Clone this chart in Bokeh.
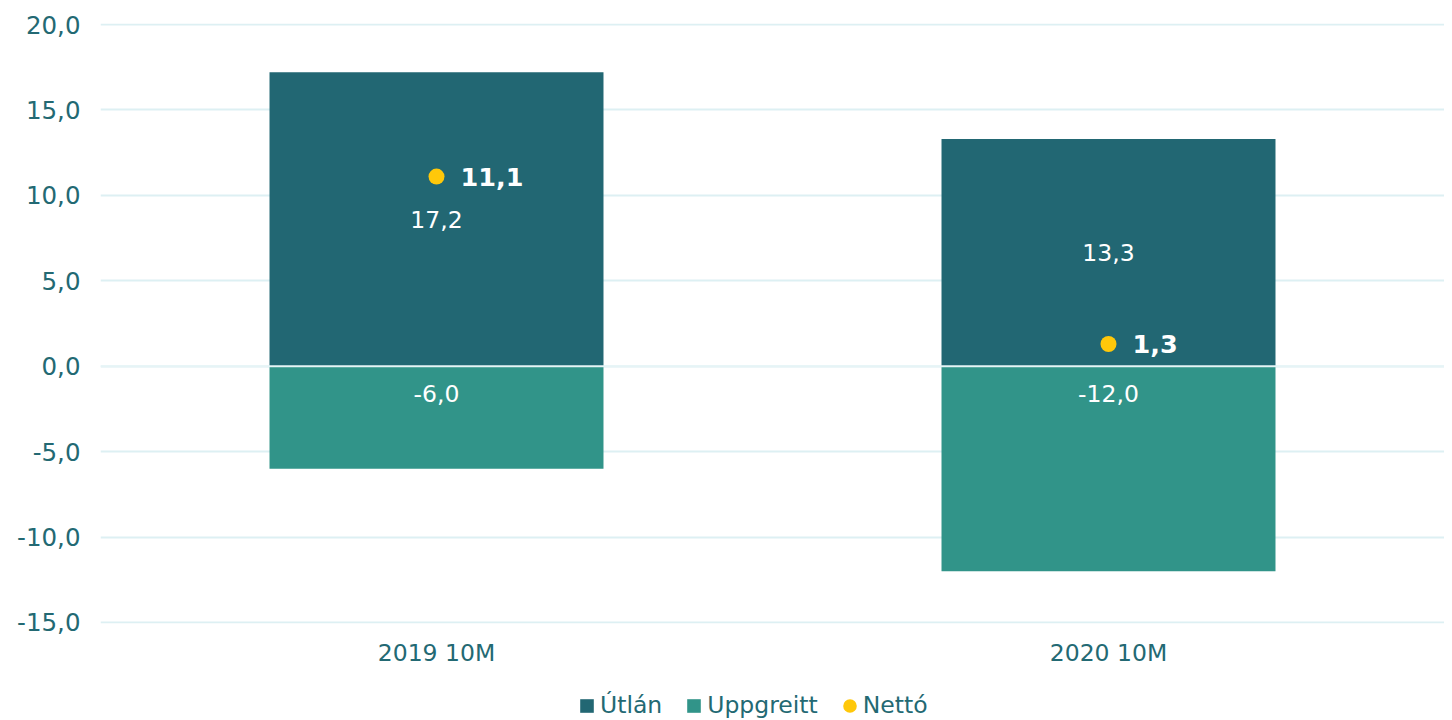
from bokeh.plotting import figure
from bokeh.layouts import column
from bokeh.models import ColumnDataSource, Legend, LegendItem, CustomJSTickFormatter, Span, FixedTicker
from bokeh.core.properties import value
from bokeh.embed import file_html
from bokeh.resources import INLINE

categories = ["2019 10M", "2020 10M"]
utlan = [17.2, 13.3]
uppgreitt = [-6.0, -12.0]
netto = [11.1, 1.3]
y_ticks = [-15, -10, -5, 0, 5, 10, 15, 20]
series_names = ["Útlán", "Uppgreitt", "Nettó"]

DARK = "#226773"
MID = "#319489"
GOLD = "#FFC80A"
TXT = "#236973"
GRID = "#DDF0F3"
FONT = "DejaVu Sans"

def fmt(v):
    return f"{v:.1f}".replace(".", ",")

src = ColumnDataSource(dict(
    x=categories,
    utlan=utlan,
    utlan_mid=[v / 2 for v in utlan],
    utlan_lbl=[fmt(v) for v in utlan],
    upp=uppgreitt,
    upp_lbl=[fmt(v) for v in uppgreitt],
    zero=[0] * len(categories),
    net=netto,
    net_lbl=[fmt(v) for v in netto],
))

p = figure(x_range=categories, y_range=(-15.06, 20.06),
           width=1444, height=690,
           output_backend="svg", toolbar_location=None,
           min_border_left=100, min_border_right=0, min_border_top=23, min_border_bottom=67,
           background_fill_color="white", border_fill_color="white")
p.outline_line_color = None

p.vbar(x="x", top="utlan", bottom=0, width=0.497, source=src,
       fill_color=DARK, line_color=None)
p.vbar(x="x", top="upp", bottom=0, width=0.497, source=src,
       fill_color=MID, line_color=None)
p.add_layout(Span(location=0, dimension="width", line_color="#E6F4F6", line_width=2))

p.scatter(x="x", y="net", size=16, source=src, fill_color=GOLD, line_color=None)

p.text(x="x", y="utlan_mid", text="utlan_lbl", source=src, text_color="white",
       text_font=value(FONT), text_font_size="23.5px", text_align="center",
       text_baseline="middle")
p.text(x="x", y="zero", text="upp_lbl", source=src, text_color="white",
       text_font=value(FONT), text_font_size="23.5px", text_align="center",
       text_baseline="middle", y_offset=27)
p.text(x="x", y="net", text="net_lbl", source=src, text_color="white",
       text_font=value(FONT), text_font_size="25.5px", text_font_style="bold",
       text_align="left", text_baseline="middle", x_offset=24)

p.yaxis.ticker = FixedTicker(ticks=y_ticks)
p.yaxis.formatter = CustomJSTickFormatter(code="return tick.toFixed(1).replace('.', ',');")
for ax in (p.xaxis[0], p.yaxis[0]):
    ax.axis_line_color = None
    ax.major_tick_line_color = None
    ax.minor_tick_line_color = None
    ax.major_tick_out = 0
    ax.major_tick_in = 0
    ax.major_label_text_color = TXT
    ax.major_label_text_font = FONT
p.yaxis.major_label_text_font_size = "24.5px"
p.xaxis.major_label_text_font_size = "23.5px"
p.yaxis.major_label_standoff = 20
p.xaxis.major_label_standoff = 15

p.xgrid.grid_line_color = None
p.ygrid.grid_line_color = GRID
p.ygrid.grid_line_width = 2
p.ygrid.ticker = FixedTicker(ticks=y_ticks)

# legend strip below the chart (its glyphs fall outside its own visible range)
lg = figure(width=1444, height=30, x_range=categories, y_range=(1000, 1001),
            output_backend="svg", toolbar_location=None,
            min_border_left=0, min_border_right=0, min_border_top=0, min_border_bottom=0,
            background_fill_color="white", border_fill_color="white")
lg.outline_line_color = None
lg.axis.visible = False
lg.grid.visible = False
g1 = lg.vbar(x="x", top="utlan", bottom=0, width=0.497, source=src, fill_color=DARK, line_color=None)
g2 = lg.vbar(x="x", top="upp", bottom=0, width=0.497, source=src, fill_color=MID, line_color=None)
g3 = lg.ellipse(x="x", y="net", width=15, height=15, width_units="screen", height_units="screen",
                source=src, fill_color=GOLD, line_color=None)

legend = Legend(items=[
    LegendItem(label=series_names[0], renderers=[g1]),
    LegendItem(label=series_names[1], renderers=[g2]),
    LegendItem(label=series_names[2], renderers=[g3]),
], orientation="horizontal", location=(478, 1),
    label_text_font=FONT, label_text_font_size="23.5px", label_text_color=TXT,
    glyph_width=17, glyph_height=17, label_standoff=5, spacing=23,
    padding=0, margin=0, border_line_color=None, background_fill_alpha=0)
lg.add_layout(legend)

layout = column(p, lg, spacing=0)
open("out.html", "w").write(file_html(layout, INLINE))
